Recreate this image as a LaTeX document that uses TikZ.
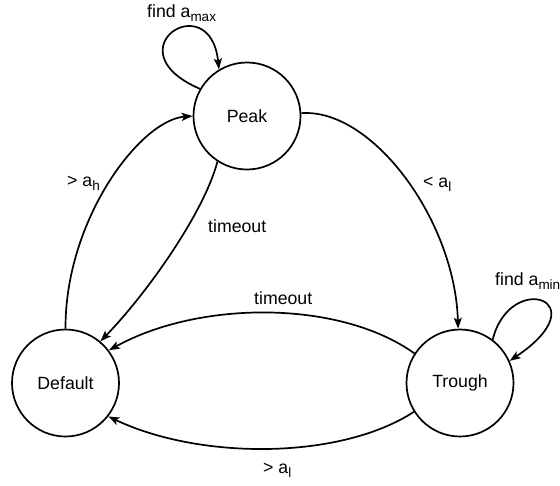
\documentclass[tikz,border=0pt]{standalone}
\usepackage{fontspec}
\setmainfont{Liberation Sans}
\usetikzlibrary{arrows.meta}
\newcommand{\lowtxt}[1]{\raisebox{-4pt}{\fontsize{13.5}{15}\selectfont #1}}
\tikzset{
  state/.style={circle, draw, line width=1.7pt, minimum size=107pt, inner sep=0pt},
  conn/.style={line width=1.7pt, -{Stealth[length=11pt,width=8pt,inset=2.5pt]}},
  lbl/.style={anchor=base west, inner sep=0pt}
}
\begin{document}
\begin{tikzpicture}[x=1pt,y=-1pt,font=\fontsize{17.7}{21}\selectfont]
\useasboundingbox (0,0) rectangle (560,485);
\node[state] (peak) at (247,116) {Peak};
\node[state] (default) at (65.5,383) {Default};
\node[state] (trough) at (460,383) {Trough};
% Peak self loop
\draw[conn] (peak.150) .. controls (110,50) and (210,-15) .. (peak.121);
\node[lbl] (lmax) at (147,17) {find a\lowtxt{max}};
% Peak -> Trough
\draw[conn] (peak.3) .. controls (372,108) and (455,220) .. (trough.92);
\node[lbl] (ll1) at (423,187) {< a\lowtxt{l}};
% Peak -> Default
\draw[conn] (peak.-123) .. controls (205,210) and (150,290) .. (default.50);
\node[lbl] (lto1) at (208,232) {timeout};
% Default -> Peak
\draw[conn] (default.90) .. controls (65,220) and (140,120) .. (peak.180);
\node[lbl] (lh) at (67,186) {> a\lowtxt{h}};
% Trough -> Default (upper)
\draw[conn] (trough.147) .. controls (340,300) and (200,300) .. (default.37);
\node[lbl] (lto2) at (254,304) {timeout};
% Trough -> Default (lower)
\draw[conn] (trough.212) .. controls (340,460) and (200,460) .. (default.-38);
\node[lbl] (ll2) at (263,473) {> a\lowtxt{l}};
% Trough self loop
\draw[conn] (trough.53) .. controls (510,270) and (600,300) .. (trough.24);
\node[lbl] (lmin) at (495,285) {find a\lowtxt{min}};
\end{tikzpicture}
\end{document}
